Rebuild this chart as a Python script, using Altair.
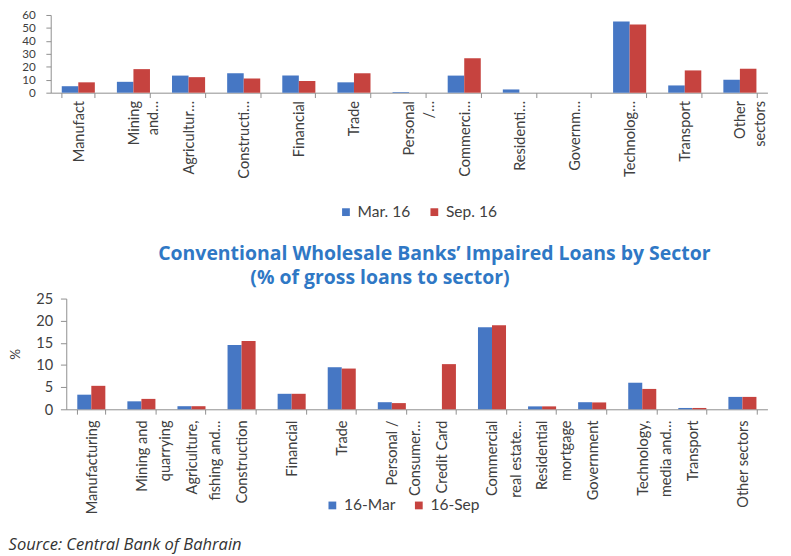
import altair as alt
import pandas as pd

# ---------------- data ----------------
top_categories = ["Manufact", "Mining|and…", "Agricultur…", "Constructi…", "Financial",
                  "Trade", "Personal|/…", "Commerci…", "Residenti…", "Governm…",
                  "Technolog…", "Transport", "Other|sectors"]
top_series = ["Mar. 16", "Sep. 16"]
top_mar16 = [5, 8.4, 13.2, 15, 13.2, 8, 0.5, 13.2, 2.5, 0, 55, 5.6, 10]
top_sep16 = [8, 18.2, 12, 11, 9, 15, 0, 26.6, 0, 0, 52.7, 17.2, 18.5]
top_ticks = [0, 10, 20, 30, 40, 50, 60]

bottom_categories = ["Manufacturing", "Mining and|quarrying", "Agriculture,|fishing and…",
                     "Construction", "Financial", "Trade", "Personal /|Consumer…",
                     "Credit Card", "Commercial|real estate…", "Residential|mortgage",
                     "Government", "Technology,|media and…", "Transport", "Other sectors"]
bottom_series = ["16-Mar", "16-Sep"]
bottom_mar16 = [3.3, 1.8, 0.7, 14.5, 3.5, 9.5, 1.6, 0, 18.5, 0.66, 1.6, 6.0, 0.3, 2.8]
bottom_sep16 = [5.3, 2.35, 0.7, 15.4, 3.5, 9.2, 1.4, 10.2, 19.0, 0.66, 1.55, 4.6, 0.3, 2.8]
bottom_ticks = [0, 5, 10, 15, 20, 25]

title_line1 = "Conventional Wholesale Banks’ Impaired Loans by Sector"
title_line2 = "(% of gross loans to sector)"
source_text = "Source: Central Bank of Bahrain"

BLUE = "#4677C4"
RED = "#C6433F"
AXIS = "#8c8c8c"
LABEL = "#404040"
TITLE_BLUE = "#2F78C5"
W = 722


def long_df(cats, a, b, names):
    rows = []
    for c, va, vb in zip(cats, a, b):
        rows.append({"sector": c, "series": names[0], "value": va})
        rows.append({"sector": c, "series": names[1], "value": vb})
    return pd.DataFrame(rows)


top_df = long_df(top_categories, top_mar16, top_sep16, top_series)
bottom_df = long_df(bottom_categories, bottom_mar16, bottom_sep16, bottom_series)

legend_common = dict(orient="none", direction="horizontal", title=None, symbolType="square",
                     symbolSize=64, symbolStrokeWidth=0, labelFontSize=16, labelColor=LABEL,
                     columnPadding=16, labelOffset=4)

top = alt.Chart(top_df).mark_bar().encode(
    x=alt.X("sector:N", sort=top_categories,
            scale=alt.Scale(range=[-16, W], paddingInner=0.4, paddingOuter=0.2),
            axis=alt.Axis(title=None, labelAngle=270, labelExpr="split(datum.label, '|')",
                          labelLineHeight=20, labelFontSize=15, labelColor=LABEL,
                          tickBand="extent", tickSize=5, tickColor=AXIS, domainColor=AXIS,
                          labelPadding=3)),
    xOffset=alt.XOffset("series:N", sort=top_series,
                        scale=alt.Scale(paddingInner=0, paddingOuter=0)),
    y=alt.Y("value:Q", scale=alt.Scale(domain=[0, 60]),
            axis=alt.Axis(values=top_ticks, title=None, grid=False, offset=16,
                          labelOverlap=False, labelFontSize=12, labelColor=LABEL, tickSize=5,
                          tickColor=AXIS, domainColor=AXIS, labelPadding=11)),
    color=alt.Color("series:N", sort=top_series,
                    scale=alt.Scale(domain=top_series, range=[BLUE, RED]),
                    legend=alt.Legend(legendX=280, legendY=195, **legend_common)),
).properties(
    width=W, height=80,
    title=alt.TitleParams(title_line1, orient="bottom", anchor="middle", frame="group",
                          dx=18, offset=25, font="Open Sans", fontSize=20, fontWeight="bold",
                          color=TITLE_BLUE),
)

bottom = alt.Chart(bottom_df).mark_bar().encode(
    x=alt.X("sector:N", sort=bottom_categories,
            scale=alt.Scale(paddingInner=0.44, paddingOuter=0.22),
            axis=alt.Axis(title=None, labelAngle=270, labelExpr="split(datum.label, '|')",
                          labelLineHeight=24, labelFontSize=15, labelColor=LABEL,
                          tickBand="extent", tickSize=5, tickColor=AXIS, domainColor=AXIS,
                          labelPadding=6)),
    xOffset=alt.XOffset("series:N", sort=bottom_series,
                        scale=alt.Scale(paddingInner=0, paddingOuter=0)),
    y=alt.Y("value:Q", scale=alt.Scale(domain=[0, 25]),
            axis=alt.Axis(values=bottom_ticks, title="%", titleFontSize=14,
                          titleFontWeight="normal", titleColor=LABEL, titlePadding=14,
                          grid=False, labelFontSize=15, labelColor=LABEL, tickSize=6,
                          tickColor=AXIS, domainColor=AXIS, labelPadding=8)),
    color=alt.Color("series:N", sort=bottom_series,
                    scale=alt.Scale(domain=bottom_series, range=[BLUE, RED]),
                    legend=alt.Legend(legendX=266, legendY=205, **legend_common)),
).properties(
    width=W, height=114,
    title=alt.TitleParams(title_line2, orient="top", anchor="middle", frame="group",
                          dx=-38, offset=4, font="Open Sans", fontSize=20, fontWeight="bold",
                          color=TITLE_BLUE),
)

chart = alt.vconcat(top, bottom, spacing=5).resolve_scale(
    color="independent", x="independent", y="independent", xOffset="independent"
).properties(
    title=alt.TitleParams(source_text, orient="bottom", anchor="start", font="Open Sans",
                          fontSize=17, fontStyle="italic", fontWeight="normal",
                          color="#333333", offset=24),
    padding={"left": 0, "top": -7, "right": 0, "bottom": 0},
).configure(font="Lato").configure_view(stroke=None)

chart.save("out.html", embed_options={"renderer": "svg", "actions": False})
